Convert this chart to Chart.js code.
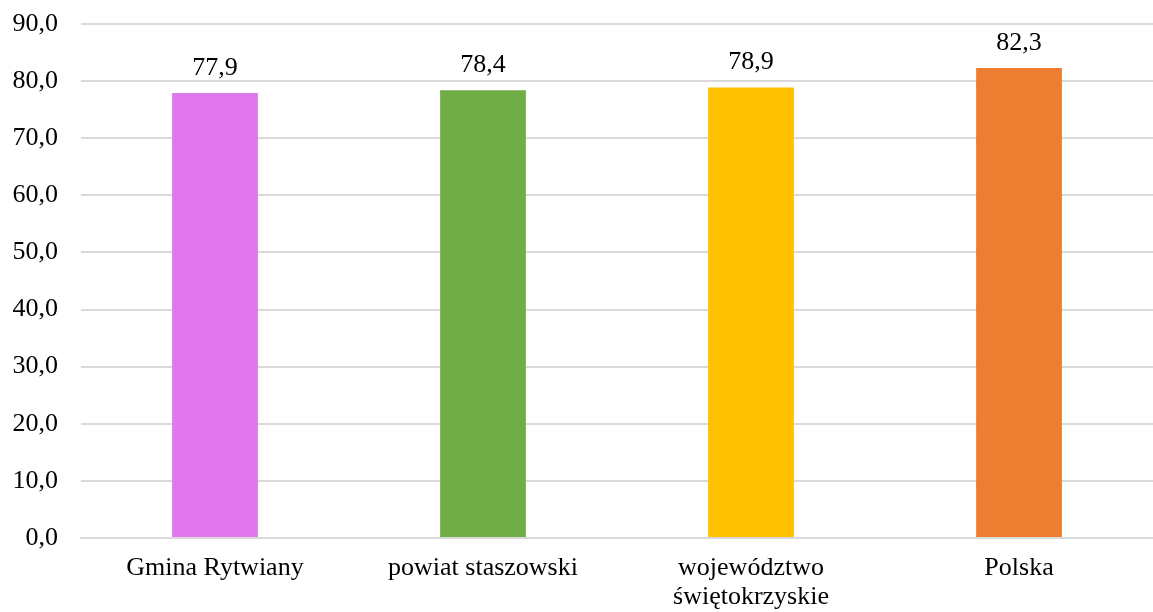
<!DOCTYPE html>
<html>
<head>
<meta charset="utf-8">
<script src="https://cdn.jsdelivr.net/npm/chart.js@4/dist/chart.umd.min.js"></script>
<style>
  html, body { margin: 0; padding: 0; background: #fff; }
  #wrap { width: 1153px; height: 612px; }
</style>
</head>
<body>
<div id="wrap"><canvas id="c" width="1153" height="612"></canvas></div>
<script>
'use strict'

// dane z wykresu
const categories = ['Gmina Rytwiany', 'powiat staszowski', ['województwo', 'świętokrzyskie'], 'Polska']
const values = [77.9, 78.4, 78.9, 82.3]
const barColors = ['#E076EC', '#70AD47', '#FFC000', '#ED7D31']
const yTicks = [0, 10, 20, 30, 40, 50, 60, 70, 80, 90]

const fmt = v => v.toFixed(1).replace('.', ',')
const FONT = '"Liberation Serif", "Times New Roman", serif'

// etykiety nad słupkami
const valueLabels = {
    id: 'valueLabels',
    afterDatasetsDraw(chart) {
        const ctx = chart.ctx
        const meta = chart.getDatasetMeta(0)
        ctx.save()
        ctx.font = '26px ' + FONT
        ctx.fillStyle = '#000'
        ctx.textAlign = 'center'
        ctx.textBaseline = 'alphabetic'
        meta.data.forEach((bar, i) => {
            ctx.fillText(fmt(values[i]), bar.x, bar.y - 18)
        })
        ctx.restore()
    }
}

new Chart(document.getElementById('c'), {
    type: 'bar',
    data: {
        labels: categories,
        datasets: [{
            data: values,
            backgroundColor: barColors,
            categoryPercentage: 1,
            barPercentage: 0.32
        }]
    },
    options: {
        responsive: false,
        animation: false,
        layout: { padding: { top: 24, right: 0, left: 0, bottom: 0 } },
        plugins: {
            legend: { display: false },
            tooltip: { enabled: false }
        },
        scales: {
            x: {
                grid: { display: false, drawTicks: false },
                border: { color: '#d9d9d9', width: 2 },
                ticks: {
                    color: '#000',
                    font: { family: FONT, size: 26, lineHeight: 1.1 },
                    padding: 16,
                    maxRotation: 0,
                    autoSkip: false
                },
                afterFit(scale) {
                    scale.height = 74
                    scale.paddingLeft = 0
                    scale.paddingRight = 0
                }
            },
            y: {
                min: 0,
                max: 90,
                grid: { color: '#d9d9d9', lineWidth: 2, drawTicks: false },
                border: { display: false },
                afterBuildTicks(scale) {
                    scale.ticks = yTicks.map(v => ({ value: v }))
                },
                ticks: {
                    color: '#000',
                    font: { family: FONT, size: 26 },
                    padding: 23,
                    callback: v => fmt(v)
                },
                afterFit(scale) {
                    scale.width = 81
                    scale.paddingTop = 0
                    scale.paddingBottom = 0
                }
            }
        }
    },
    plugins: [valueLabels]
})
</script>
</body>
</html>
